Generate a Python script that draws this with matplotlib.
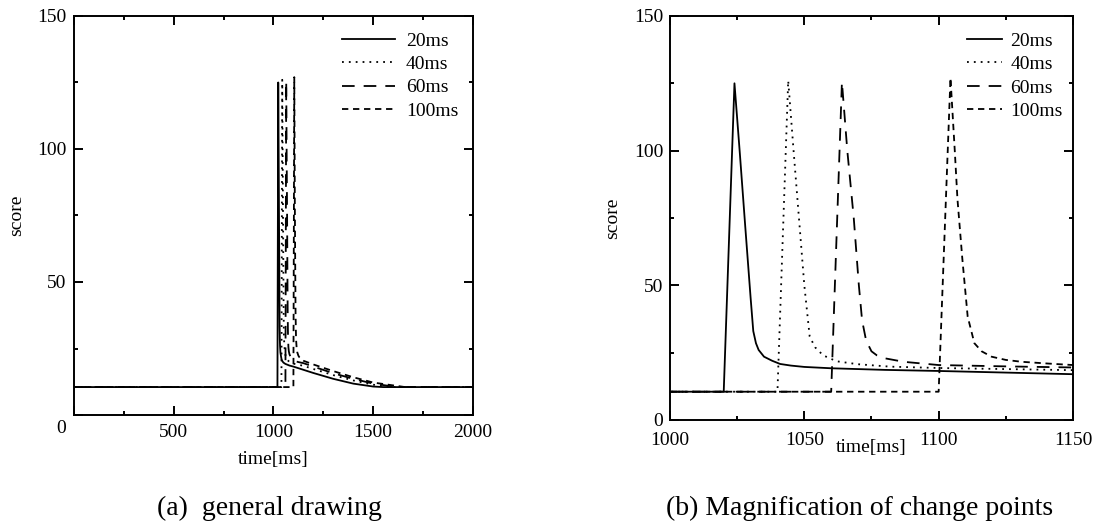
import matplotlib.pyplot as plt
from matplotlib.ticker import MultipleLocator

plt.rcParams['font.family'] = ['Liberation Serif', 'DejaVu Serif']
plt.rcParams['font.size'] = 14

### ---------------------------------------------------------------
### score curves for each window length (time in ms)
### ---------------------------------------------------------------

t_20 = [0, 1020, 1024, 1026, 1028, 1030, 1031, 1032, 1033, 1035, 1038, 1041,
        1045, 1050, 1060, 1080, 1100, 1125, 1150, 1200, 1300, 1400, 1500,
        1550, 2000]
s_20 = [10.5, 10.5, 125, 99, 72, 45.5, 33, 28.5, 26, 23.5, 22, 20.8,
        20.2, 19.7, 19.2, 18.6, 18.2, 17.6, 17.0, 15.8, 13.6, 11.8, 10.7,
        10.5, 10.5]

t_40 = [0, 1040, 1044, 1046, 1048, 1050, 1052, 1054, 1057, 1062, 1070,
        1082, 1100, 1125, 1150, 1200, 1300, 1400, 1500, 1590, 2000]
s_40 = [10.5, 10.5, 126, 100, 75, 50, 31, 27, 24, 21.8, 20.7,
        19.8, 19.3, 18.9, 18.5, 17.3, 15.0, 13.0, 11.4, 10.5, 10.5]

t_60 = [0, 1060, 1064, 1066, 1068.4, 1070.3, 1071.5, 1073, 1075, 1077,
        1080, 1087, 1100, 1125, 1150, 1200, 1300, 1400, 1500, 1620, 2000]
s_60 = [10.5, 10.5, 125.5, 100, 75, 50, 37, 29.5, 25.5, 24,
        22.9, 21.6, 20.4, 19.9, 19.5, 18.2, 15.7, 13.6, 11.8, 10.5, 10.5]

t_100 = [0, 1100, 1104.4, 1106, 1107, 1108.8, 1110.8, 1113.3, 1116,
         1119.7, 1125, 1131, 1140, 1150, 1200, 1300, 1400, 1500, 1660, 2000]
s_100 = [10.5, 10.5, 127, 100, 82, 60, 38.4, 28.5, 25.5,
         23.5, 22.3, 21.6, 21.0, 20.4, 19.0, 16.5, 14.2, 12.2, 10.5, 10.5]

labels = ['20ms', '40ms', '60ms', '100ms']
series = [(t_20, s_20), (t_40, s_40), (t_60, s_60), (t_100, s_100)]
# dash patterns in units of line width: solid, dotted, long dash, short dash
dash_list = [None, (1, 2.8), (7, 5), (3.5, 2.6)]

lw = 1.3
frame_lw = 1.4


def draw_curves(ax):
    for (t, s), lab, d in zip(series, labels, dash_list):
        if d is None:
            ax.plot(t, s, color='k', lw=lw, label=lab)
        else:
            ax.plot(t, s, color='k', lw=lw, dashes=d, label=lab)


def style_axes(ax):
    ax.tick_params(which='both', direction='in', top=True, right=True,
                   width=frame_lw, color='k')
    ax.tick_params(which='major', length=6.7)
    ax.tick_params(which='minor', length=3.2)
    for sp in ax.spines.values():
        sp.set_linewidth(frame_lw)
    ax.set_ylim(0, 150)
    ax.yaxis.set_major_locator(MultipleLocator(50))
    ax.yaxis.set_minor_locator(MultipleLocator(25))


fig = plt.figure(figsize=(10.96, 5.24), dpi=100)

### ---------------------------------------------------------------
### (a) whole record
### ---------------------------------------------------------------
ax1 = fig.add_axes([0.0675, 0.208, 0.364, 0.7615])
draw_curves(ax1)
style_axes(ax1)
ax1.set_xlim(0, 2000)
ax1.set_xticks([0, 500, 1000, 1500, 2000])
ax1.set_xticklabels(['', '500', '1000', '1500', '2000'])
ax1.xaxis.set_minor_locator(MultipleLocator(250))
ax1.set_yticks([0, 50, 100, 150])
ax1.set_yticklabels(['', '50', '100', '150'])
ax1.tick_params(axis='x', which='major', pad=6.5)
ax1.tick_params(axis='y', which='major', pad=5.3)
# shared origin label sits in the corner
ax1.annotate('0', xy=(0, 0), xytext=(-9, -9.5), textcoords='offset points',
             ha='center', va='center', annotation_clip=False)
ax1.set_xlabel('time[ms]')
ax1.xaxis.set_label_coords(0.5, -0.09)
ax1.set_ylabel('score')
ax1.yaxis.set_label_coords(-0.123, 0.5)
ax1.legend(loc='upper left', bbox_to_anchor=(0.673, 0.96), frameon=False,
           handlelength=2.7, handletextpad=0.57, labelspacing=0.3,
           borderpad=0, borderaxespad=0)

### ---------------------------------------------------------------
### (b) zoom on the change points
### ---------------------------------------------------------------
ax2 = fig.add_axes([0.6113, 0.1985, 0.3677, 0.771])
draw_curves(ax2)
style_axes(ax2)
ax2.set_xlim(1000, 1150)
ax2.xaxis.set_major_locator(MultipleLocator(50))
ax2.xaxis.set_minor_locator(MultipleLocator(25))
ax2.tick_params(axis='x', which='major', pad=8.4)
ax2.tick_params(axis='y', which='major', pad=4.8)
ax2.set_xlabel('time[ms]')
ax2.xaxis.set_label_coords(0.5, -0.047)
ax2.set_ylabel('score')
ax2.yaxis.set_label_coords(-0.122, 0.5)
ax2.legend(loc='upper left', bbox_to_anchor=(0.736, 0.96), frameon=False,
           handlelength=1.8, handletextpad=0.46, labelspacing=0.3,
           borderpad=0, borderaxespad=0)

fig.text(269 / 1096, 1 - 508 / 524, '(a)  general drawing', fontsize=20,
         ha='center', va='center')
fig.text(860 / 1096, 1 - 508 / 524, '(b) Magnification of change points',
         fontsize=20, ha='center', va='center')

fig.savefig('out.png', dpi=100)
